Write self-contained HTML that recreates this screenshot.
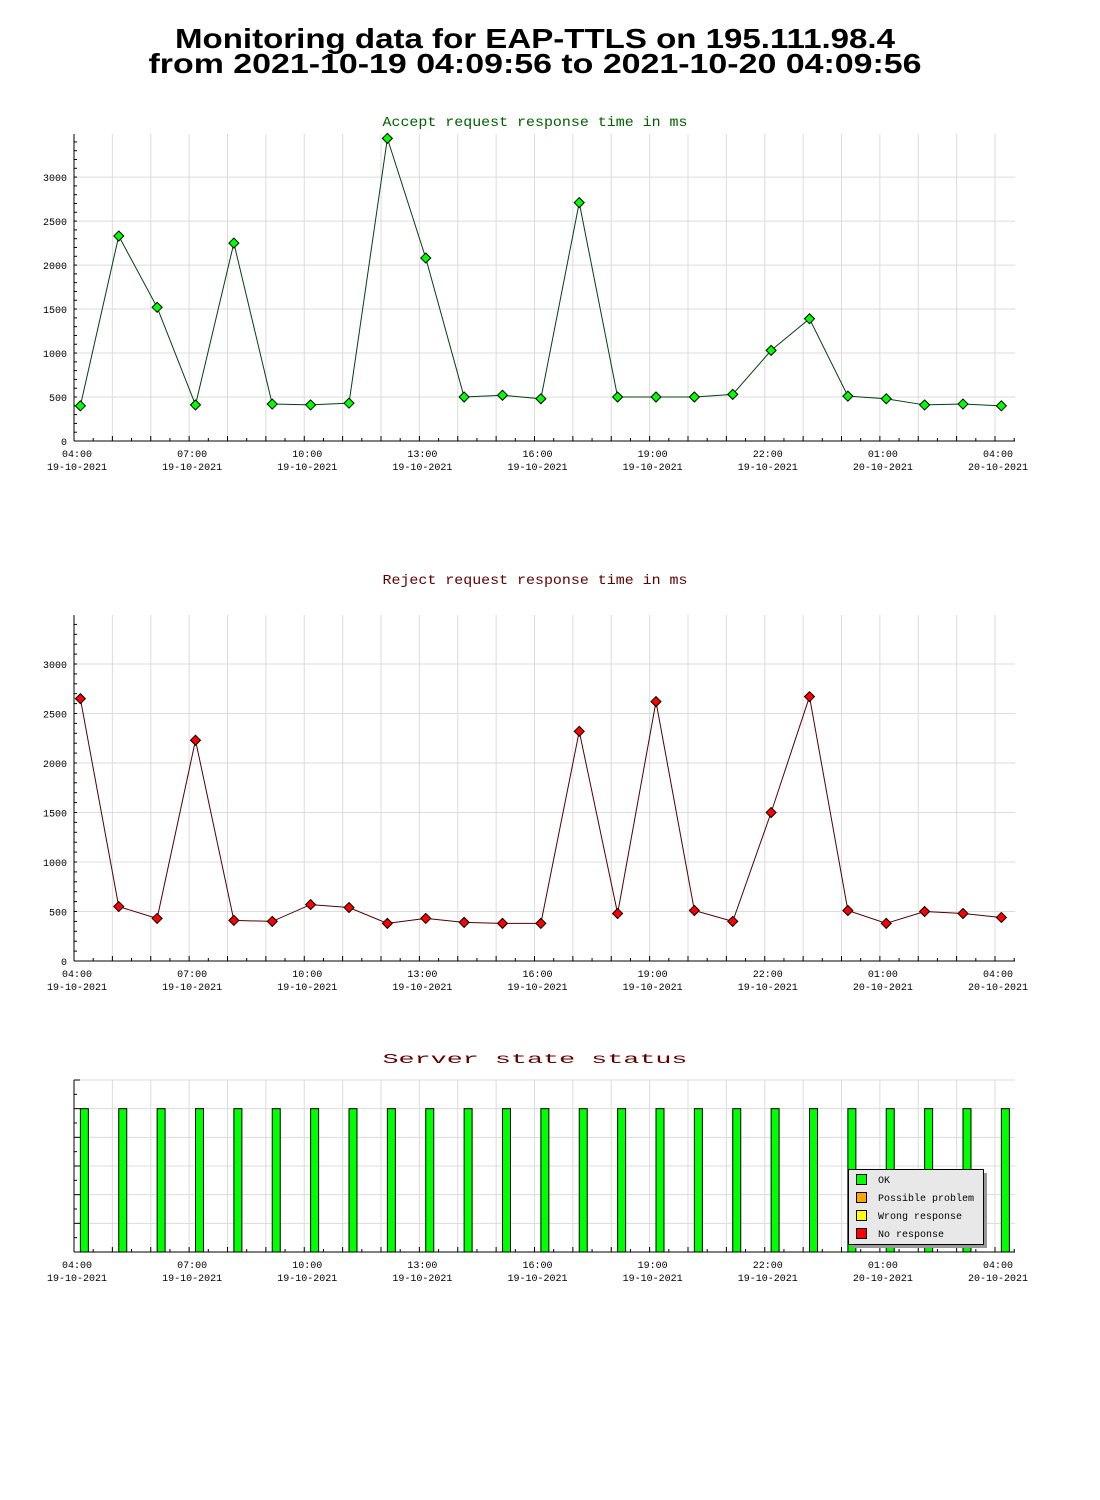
<!DOCTYPE html>
<html><head><meta charset="utf-8"><style>
html,body{margin:0;padding:0;background:#fff;}
svg{display:block;}
text{font-family:"Liberation Mono",monospace;}
</style></head><body>
<svg id="svg" width="1100" height="1500" viewBox="0 0 1100 1500" xmlns="http://www.w3.org/2000/svg">
<text x="535" y="48" text-anchor="middle" font-size="28" font-weight="bold" textLength="720" lengthAdjust="spacingAndGlyphs" style="font-family:'Liberation Sans',sans-serif">Monitoring data for EAP-TTLS on 195.111.98.4</text>
<text x="535" y="73" text-anchor="middle" font-size="28" font-weight="bold" textLength="773" lengthAdjust="spacingAndGlyphs" style="font-family:'Liberation Sans',sans-serif">from 2021-10-19 04:09:56 to 2021-10-20 04:09:56</text>
</svg>
<script>
const hours = ["04:00","07:00","10:00","13:00","16:00","19:00","22:00","01:00","04:00"];
const dates = ["19-10-2021","19-10-2021","19-10-2021","19-10-2021","19-10-2021","19-10-2021","19-10-2021","20-10-2021","20-10-2021"];
const yTicks = [0,500,1000,1500,2000,2500,3000];
const acceptValues = [400,2330,1520,410,2250,420,410,430,3440,2080,500,520,480,2710,500,500,500,530,1030,1390,510,480,410,420,400];
const rejectValues = [2650,550,430,2230,410,400,570,540,380,430,390,380,380,2320,480,2620,510,400,1500,2670,510,380,500,480,440];
const statusValues = [1,1,1,1,1,1,1,1,1,1,1,1,1,1,1,1,1,1,1,1,1,1,1,1,1];
const legendLabels = ["OK","Possible problem","Wrong response","No response"];
const legendColors = ["#00ff00","#ffa500","#ffff00","#ff0000"];

const svg = document.getElementById('svg');
const NS = 'http://www.w3.org/2000/svg';
function mk(tag, attrs, parent){const e=document.createElementNS(NS,tag);for(const k in attrs)e.setAttribute(k,attrs[k]);(parent||svg).appendChild(e);return e;}
const X0=74, X1=1015, PXH=38.375, OFF=0.166;
function xHour(h){return X0+h*PXH;}
function xPoint(i){return xHour(OFF+i);}

function chart(name, top, bottom, yMax, title, titleColor, lineColor, dotColor, values, titleY, yLabels){
  const g=mk('g',{});
  
  
  const y=v=>bottom-(v/yMax)*(bottom-top);
  const t=mk('text',{x:535,y:titleY,'text-anchor':'middle','font-size':'14',fill:titleColor,textLength:305,lengthAdjust:'spacingAndGlyphs'},g);
  t.textContent=title;
  
  
  // vertical grid
  for(let h=1;h*PXH+X0<X1;h++){mk('line',{x1:xHour(h),x2:xHour(h),y1:top,y2:bottom,stroke:'#dcdcdc','stroke-width':1},g);}
  // horizontal grid
  if(yLabels){
    yTicks.forEach(v=>{ if(v>0) mk('line',{x1:X0,x2:X1,y1:y(v),y2:y(v),stroke:'#dcdcdc'},g);
      const tl=mk('text',{x:67,y:y(v)+4,'text-anchor':'end','font-size':'10',fill:'#000'},g);tl.textContent=v;
      
      
    });
    for(let v=100;v<yMax;v+=100) mk('line',{x1:X0,x2:X0+3,y1:y(v),y2:y(v),stroke:'#000'},g);
  } else {
    for(let k=0;k<6;k++){const yy=top+k*(bottom-top)/6; mk('line',{x1:X0,x2:X1,y1:yy,y2:yy,stroke:'#dcdcdc'},g); mk('line',{x1:X0,x2:X0+6,y1:yy,y2:yy,stroke:'#000'},g); mk('line',{x1:X0,x2:X0+3,y1:yy+(bottom-top)/12,y2:yy+(bottom-top)/12,stroke:'#000'},g);}
  }
  // axes
  mk('line',{x1:X0,x2:X0,y1:top,y2:bottom,stroke:'#000'},g);
  mk('line',{x1:X0,x2:X1,y1:bottom,y2:bottom,stroke:'#000'},g);
  for(let h=0.5;X0+h*PXH<=X1;h+=0.5){const xx=xHour(h);mk('line',{x1:xx,x2:xx,y1:bottom,y2:bottom-(h%1===0?5:3),stroke:'#000'},g);}
  hours.forEach((lab,i)=>{
    const xx=xHour(i*3)+3;
    const a=mk('text',{x:xx,y:bottom+16,'text-anchor':'middle','font-size':'10'},g);a.textContent=lab;
    
    
    const b=mk('text',{x:xx,y:bottom+29,'text-anchor':'middle','font-size':'10'},g);b.textContent=dates[i];
    
    
  });
  return {g,y};
}

// Accept chart
let c1=chart('accept-chart',134,441,3490,'Accept request response time in ms','#006000','#004010','#00ff00',acceptValues,126,true);
mk('polyline',{points:acceptValues.map((v,i)=>xPoint(i)+','+c1.y(v)).join(' '),fill:'none',stroke:'#004010','stroke-width':1},c1.g);
acceptValues.forEach((v,i)=>{const d=mk('polygon',{points:`${xPoint(i)},${c1.y(v)-5} ${xPoint(i)+5},${c1.y(v)} ${xPoint(i)},${c1.y(v)+5} ${xPoint(i)-5},${c1.y(v)}`,fill:'#00ff00',stroke:'#000'},c1.g);
  
  });

// Reject chart
let c2=chart('reject-chart',615,961,3495,'Reject request response time in ms','#600000','#400000','#ff0000',rejectValues,584,true);
mk('polyline',{points:rejectValues.map((v,i)=>xPoint(i)+','+c2.y(v)).join(' '),fill:'none',stroke:'#500000','stroke-width':1},c2.g);
rejectValues.forEach((v,i)=>{const d=mk('polygon',{points:`${xPoint(i)},${c2.y(v)-5} ${xPoint(i)+5},${c2.y(v)} ${xPoint(i)},${c2.y(v)+5} ${xPoint(i)-5},${c2.y(v)}`,fill:'#ff0000',stroke:'#000'},c2.g);
  
  });

// Status chart
let c3=chart('status-chart',1080,1252,1.2,'Server state status','#600000','#000','#0f0',statusValues,1063,false);
statusValues.forEach((v,i)=>{const yy=c3.y(v);const b=mk('rect',{x:xPoint(i),y:yy,width:8,height:1252-yy,fill:'#00ff00',stroke:'#000'},c3.g);
  
  });

// Legend
const lg=mk('g',{});


mk('rect',{x:852,y:1173,width:135,height:75,fill:'#999'},lg);
mk('rect',{x:848.5,y:1169.5,width:135,height:75,fill:'#e8e8e8',stroke:'#000'},lg);
legendLabels.forEach((lab,i)=>{
  const yy=1174+i*18;
  mk('rect',{x:856.5,y:yy+0.5,width:10,height:10,fill:legendColors[i],stroke:'#000'},lg);
  const t=mk('text',{x:878,y:yy+9,'font-size':'10'},lg);t.textContent=lab;
  
  
});
</script>
</body></html>
